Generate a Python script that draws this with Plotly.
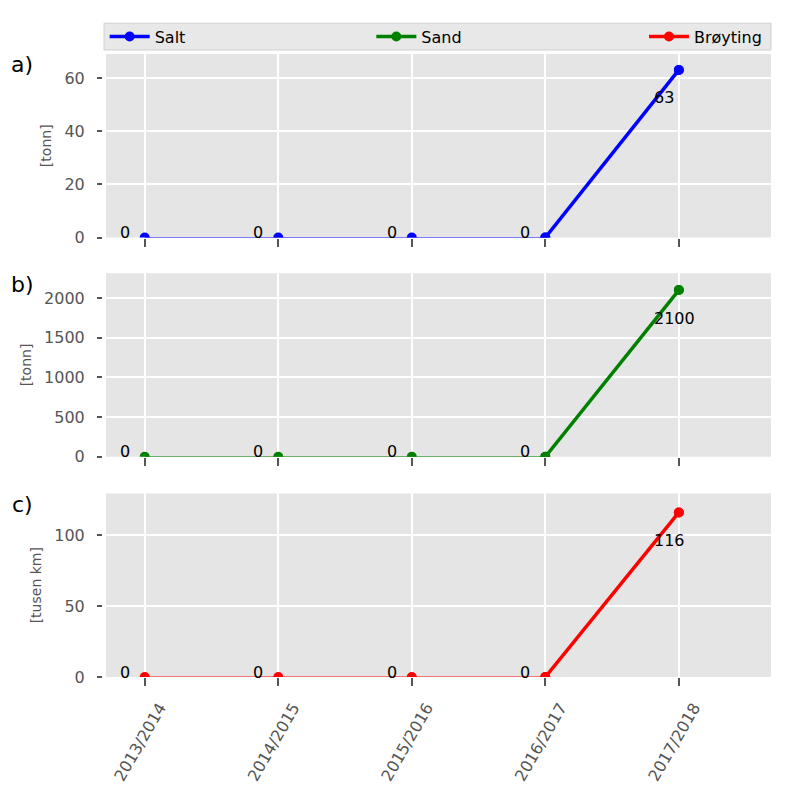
import plotly.graph_objects as go
from plotly.subplots import make_subplots

seasons = ["2013/2014", "2014/2015", "2015/2016", "2016/2017", "2017/2018"]
salt = [0, 0, 0, 0, 63]
sand = [0, 0, 0, 0, 2100]
broyting = [0, 0, 0, 0, 116]

series = [
    ("Salt", salt, "#0000ff", "[tonn]", "legend"),
    ("Sand", sand, "#008000", "[tonn]", "legend2"),
    ("Brøyting", broyting, "#ff0000", "[tusen km]", "legend3"),
]
yranges = [[0, 69], [0, 2312], [0, 129.4]]
ytickvals = [[0, 20, 40, 60], [0, 500, 1000, 1500, 2000], [0, 50, 100]]
panel_labels = ["a)", "b)", "c)"]
panel_y = [0.9825, 0.6306, 0.277]

FONT = "DejaVu Sans"
TICKC = "#555555"
fig = make_subplots(rows=3, cols=1, shared_xaxes=False)

domains = [[0.7054, 1.0], [0.3535, 0.6481], [0.0, 0.2946]]

for i, (name, vals, color, ytitle, leg) in enumerate(series):
    r = i + 1
    fig.add_trace(go.Scatter(x=seasons, y=vals, mode="lines+markers",
                             line=dict(color=color, width=1),
                             marker=dict(color=color, size=10),
                             showlegend=False, cliponaxis=True),
                  row=r, col=1)
    fig.add_trace(go.Scatter(x=seasons[-2:], y=vals[-2:], mode="lines+markers",
                             line=dict(color=color, width=3.5),
                             marker=dict(color=color, size=10),
                             name=name, legend=leg, cliponaxis=True),
                  row=r, col=1)
    ax = "" if r == 1 else str(r)
    for s, v in zip(seasons, vals):
        fig.add_annotation(x=s, y=v, xref="x" + ax, yref="y" + ax,
                           text=str(v), showarrow=False, xanchor="left", yanchor="middle",
                           xshift=-27, yshift=(5 if v == 0 else -28),
                           font=dict(family=FONT, size=16, color="black"))
    fig.add_annotation(x=-0.1263, y=panel_y[i], xref="paper", yref="paper",
                       text=panel_labels[i], showarrow=False, xanchor="center", yanchor="middle",
                       font=dict(family=FONT, size=22, color="black"))
    fig.update_yaxes(row=r, col=1, range=yranges[i], tickvals=ytickvals[i],
                     domain=domains[i], anchor="free", position=0, shift=-4,
                     showgrid=True, gridcolor="white", gridwidth=2,
                     zeroline=False, ticks="outside", ticklen=5, tickwidth=1.5, tickcolor=TICKC,
                     ticklabelstandoff=9,
                     tickfont=dict(family=FONT, size=16, color=TICKC),
                     title=dict(text=ytitle, font=dict(family=FONT, size=14, color=TICKC), standoff=8))
    fig.update_xaxes(row=r, col=1, range=[-0.29, 4.69], showgrid=True, gridcolor="white",
                     gridwidth=2, zeroline=False, ticks="outside", ticklen=8, tickwidth=1.5,
                     tickcolor=TICKC, showticklabels=(r == 3), tickangle=-60,
                     ticklabelshift=15, ticklabelstandoff=6,
                     tickfont=dict(family=FONT, size=16, color=TICKC),
                     categoryorder="array", categoryarray=seasons)

# legend background box
fig.add_shape(type="rect", xref="paper", yref="paper", x0=-0.003, x1=1.0, y0=1.0064, y1=1.0494,
              fillcolor="#e8e8e8", line=dict(color="#d0d0d0", width=1), layer="below")

legfont = dict(family=FONT, size=16, color="black")
common = dict(orientation="h", yanchor="middle", y=1.0279, bgcolor="rgba(0,0,0,0)",
              font=legfont, xanchor="left", itemwidth=40)
fig.update_layout(
    width=800, height=800,
    margin=dict(l=98, r=37, t=41, b=131),
    paper_bgcolor="white", plot_bgcolor="#e5e5e5",
    font=dict(family=FONT),
    legend=dict(x=-0.002, **common),
    legend2=dict(x=0.399, **common),
    legend3=dict(x=0.809, **common),
)

fig.write_html("out.html")
